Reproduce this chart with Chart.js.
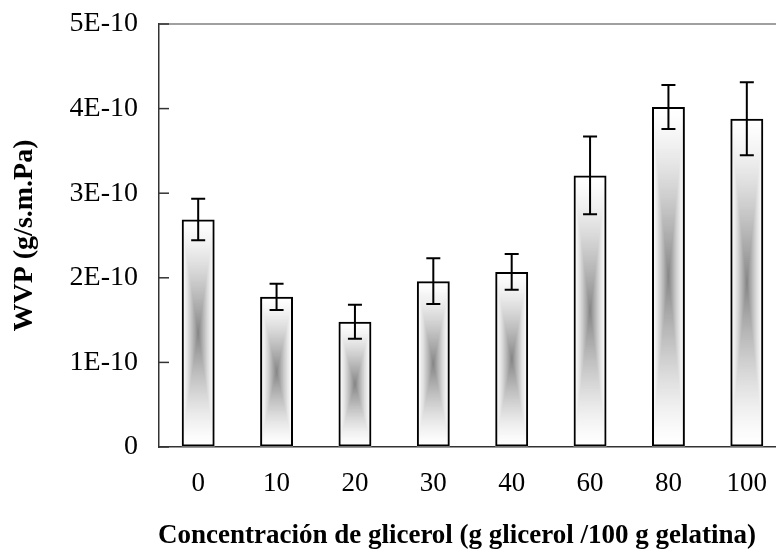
<!DOCTYPE html>
<html>
<head>
<meta charset="utf-8">
<script src="https://cdn.jsdelivr.net/npm/chart.js@4.4.1/dist/chart.umd.min.js"></script>
<style>
  html, body { margin: 0; padding: 0; background: #fff; overflow: hidden; }
  #wrap { width: 800px; height: 556px; }
</style>
</head>
<body>
<div id="wrap"><canvas id="wvpChart" width="800" height="556"></canvas></div>
<script>
// concentración de glicerol (g glicerol / 100 g gelatina)
const categories = ['0', '10', '20', '30', '40', '60', '80', '100'];
// WVP (g/s.m.Pa) y desviación
const wvp    = [2.69e-10, 1.775e-10, 1.48e-10, 1.96e-10, 2.07e-10, 3.21e-10, 4.02e-10, 3.88e-10];
const wvpErr = [0.245e-10, 0.155e-10, 0.20e-10, 0.27e-10, 0.21e-10, 0.46e-10, 0.26e-10, 0.43e-10];
const yTicks = [0, 1e-10, 2e-10, 3e-10, 4e-10, 5e-10];

const SERIF = '"Liberation Serif", "Times New Roman", serif';
const xTitle = 'Concentración de glicerol (g glicerol /100 g gelatina)';

// relleno degradado rectangular desde el centro
const gradientBars = {
  id: 'gradientBars',
  beforeDatasetsDraw(chart) {
    const ctx = chart.ctx;
    const meta = chart.getDatasetMeta(0);
    const steps = 80;
    meta.data.forEach(bar => {
      const cx = bar.x;
      const top = Math.min(bar.y, bar.base), bottom = Math.max(bar.y, bar.base);
      const cy = (top + bottom) / 2;
      const hw = bar.width / 2, hh = (bottom - top) / 2;
      ctx.save();
      for (let i = 0; i < steps; i++) {
        const t = i / steps;
        const v = Math.round(255 - 122 * Math.pow(t, 1.4));
        ctx.fillStyle = `rgb(${v},${v},${v})`;
        const k = 1 - t;
        ctx.fillRect(cx - hw * k, cy - hh * k, 2 * hw * k, 2 * hh * k);
      }
      ctx.restore();
    });
  },
  afterDatasetsDraw(chart) {
    const ctx = chart.ctx;
    const ys = chart.scales.y;
    const area = chart.chartArea;
    const meta = chart.getDatasetMeta(0);
    ctx.save();
    // barras de error
    ctx.strokeStyle = '#000';
    ctx.lineWidth = 2;
    meta.data.forEach((bar, i) => {
      const yHi = ys.getPixelForValue(wvp[i] + wvpErr[i]);
      const yLo = ys.getPixelForValue(wvp[i] - wvpErr[i]);
      const cap = 7;
      ctx.beginPath();
      ctx.moveTo(bar.x, yHi); ctx.lineTo(bar.x, yLo);
      ctx.moveTo(bar.x - cap, yHi); ctx.lineTo(bar.x + cap, yHi);
      ctx.moveTo(bar.x - cap, yLo); ctx.lineTo(bar.x + cap, yLo);
      ctx.stroke();
    });
    // borde superior
    ctx.strokeStyle = '#808080';
    ctx.lineWidth = 1.5;
    ctx.beginPath();
    ctx.moveTo(area.left, area.top); ctx.lineTo(area.right, area.top);
    ctx.stroke();
    // marcas hacia adentro
    ctx.strokeStyle = '#333';
    ctx.lineWidth = 1.5;
    yTicks.forEach(v => {
      const y = ys.getPixelForValue(v);
      ctx.beginPath();
      ctx.moveTo(area.left, y); ctx.lineTo(area.left + 10, y);
      ctx.stroke();
    });
    // título eje x
    ctx.fillStyle = '#000';
    ctx.font = 'bold 27px ' + SERIF;
    ctx.textAlign = 'center';
    ctx.textBaseline = 'middle';
    ctx.fillText(xTitle, 457, 536);
    ctx.restore();
  }
};

new Chart(document.getElementById('wvpChart'), {
  type: 'bar',
  data: {
    labels: categories,
    datasets: [{
      data: wvp,
      backgroundColor: 'rgba(0,0,0,0)',
      borderColor: '#000',
      borderWidth: 2,
      borderSkipped: false,
      barPercentage: 0.42,
      categoryPercentage: 1.0
    }]
  },
  options: {
    responsive: false,
    animation: false,
    layout: { padding: { top: 24, right: 14, bottom: 0, left: 0 } },
    plugins: { legend: { display: false }, tooltip: { enabled: false } },
    scales: {
      x: {
        grid: { drawOnChartArea: false, drawTicks: false },
        border: { color: '#333', width: 1.5 },
        ticks: { color: '#000', padding: 21, font: { family: SERIF, size: 27 } },
        afterFit(scale) {
          scale.height = 109;
          scale.paddingLeft = 0; scale.paddingRight = 0;
        }
      },
      y: {
        min: 0,
        max: 5e-10,
        afterBuildTicks(scale) { scale.ticks = yTicks.map(v => ({ value: v })); },
        grid: { drawOnChartArea: false, drawTicks: false },
        border: { color: '#333', width: 1.5 },
        ticks: {
          color: '#000',
          padding: 21,
          font: { family: SERIF, size: 28 },
          callback: v => v === 0 ? '0' : Math.round(v * 1e10) + 'E-10'
        },
        title: {
          display: true,
          text: 'WVP (g/s.m.Pa)',
          color: '#000',
          font: { family: SERIF, size: 28, weight: 'bold' },
          padding: { top: 8, bottom: 0 }
        },
        afterFit(scale) {
          scale.width = 159;
          scale.paddingTop = 0; scale.paddingBottom = 0;
        }
      }
    }
  },
  plugins: [gradientBars]
});
</script>
</body>
</html>
